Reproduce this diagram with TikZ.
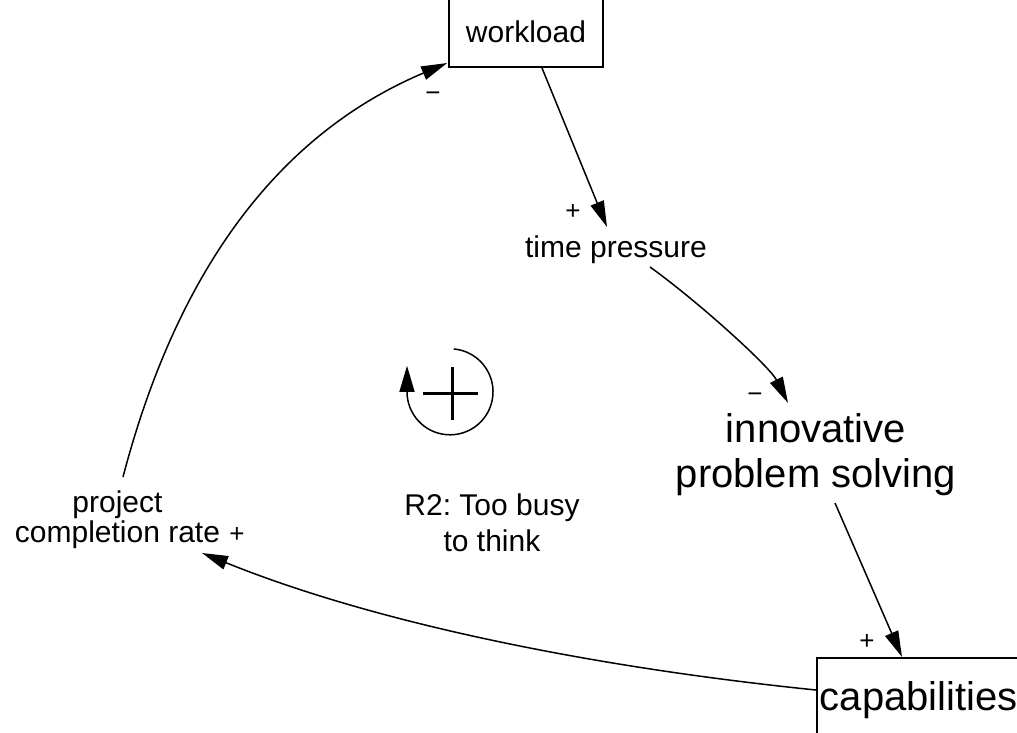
\documentclass[tikz,border=0pt]{standalone}
\usepackage{fontspec}
\setmainfont{Liberation Sans}
\usetikzlibrary{arrows.meta,calc}
\frenchspacing
\begin{document}
\begin{tikzpicture}[x=1pt,y=-1pt,
  conn/.style={draw=black, line width=1.5pt, -{Triangle[length=26pt,width=14pt]}},
  boxnode/.style={draw=black, line width=1.6pt, inner sep=0pt},
  lbl/.style={inner sep=0pt, text=black},
  pol/.style={inner sep=0pt, text=black, font=\fontsize{26}{26}\selectfont}]
\useasboundingbox (0,0) rectangle (1017,733);

% variables
\node[boxnode, anchor=south, minimum width=154pt, text height=48pt, text depth=25pt,
      font=\fontsize{30}{36}\selectfont] (wl) at (526,68) {workload};
\node[lbl, anchor=base, font=\fontsize{30}{36}\selectfont] (tp) at (616,257) {time pressure};
\node[lbl, anchor=base] (ips) at (816,442)
  {\fontsize{40}{45}\selectfont\begin{tabular}[t]{@{}c@{}}innovative\\problem solving\end{tabular}};
\node[boxnode, anchor=north west, inner xsep=3pt, inner ysep=0pt, text height=53pt, text depth=40pt,
      font=\fontsize{40}{48}\selectfont] (cap) at (816,657) {capabilities};
\node[lbl, anchor=base] (pcr) at (117.5,512)
  {\fontsize{30}{30}\selectfont\begin{tabular}[t]{@{}c@{}}project\\completion rate\end{tabular}};
\node[lbl, anchor=base] (r2) at (492,515)
  {\fontsize{30}{36.7}\selectfont\begin{tabular}[t]{@{}c@{}}R2: Too busy\\to think\end{tabular}};

% polarity signs
\node[pol] (s1) at (573,212) {+};
\node[pol] (s2) at (433,97) {−};
\node[pol] (s3) at (755,398) {−};
\node[pol] (s4) at (867,642) {+};
\node[pol] (s5) at (237,535) {+};

% connectors
\draw[conn] ($(wl.south)+(16,0)$) -- ($(tp.base)+(-9,-30)$);
\draw[conn] ($(tp.base)+(34,10)$) .. controls (700,303) and (770,367) .. ($(ips.base)+(-28,-39)$);
\draw[conn] ($(ips.base)+(19,61)$) -- ($(cap.north west)+(86,0)$);
\draw[conn] ($(cap.north west)+(0,33)$) .. controls (600,668) and (380,625) .. ($(pcr.base)+(84.5,41)$);
\draw[conn] ($(pcr.base)+(5.5,-35)$) .. controls (172,290) and (265,140) .. ($(wl.south west)+(-1,-5)$);

% loop symbol
\node[circle, minimum size=86pt, inner sep=0pt] (loop) at (450,392) {};
\draw[line width=1.5pt, -{Triangle[length=26pt,width=15pt]}]
  (loop.85) arc[start angle=-85, end angle=180, radius=43] -- ++(0,-26);
\draw[line width=3pt] ($(loop.center)+(-27,1)$) -- ($(loop.center)+(28,1)$);
\draw[line width=3pt] ($(loop.center)+(2,-25)$) -- ($(loop.center)+(2,28)$);
\end{tikzpicture}
\end{document}
